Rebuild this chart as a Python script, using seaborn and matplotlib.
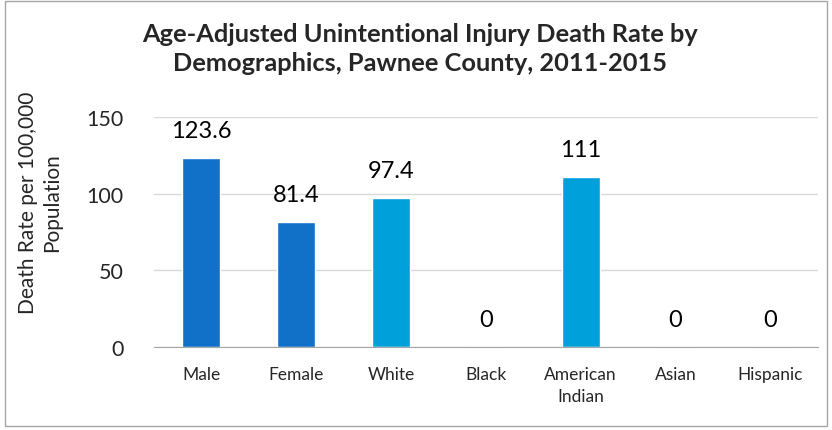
import numpy as np
import pandas as pd
import matplotlib
matplotlib.use('Agg')
import matplotlib.pyplot as plt
import seaborn as sns
from matplotlib.patches import Rectangle

categories = ['Male', 'Female', 'White', 'Black', 'American\nIndian', 'Asian', 'Hispanic']
rates = [123.6, 81.4, 97.4, 0, 111, 0, 0]
value_labels = ['123.6', '81.4', '97.4', '0', '111', '0', '0']
groups = ['sex', 'sex', 'race', 'race', 'race', 'race', 'race']

df = pd.DataFrame({'category': categories, 'rate': rates, 'group': groups})

sns.set_style('white')
plt.rcParams['font.family'] = ['Lato', 'DejaVu Sans']

fig = plt.figure(figsize=(8.32, 4.31), dpi=100)
ax = fig.add_axes([0.185, 0.193, 0.798, 0.533])

palette = {'sex': '#1170C8', 'race': '#00A0DA'}
sns.barplot(data=df, x='category', y='rate', hue='group', palette=palette,
            dodge=False, width=0.4, legend=False, ax=ax, saturation=1)

for i, lab in enumerate(value_labels):
    ax.text(i, rates[i] + 11, lab, ha='center', va='bottom', fontsize=17, color='#000000')

ax.set_ylim(0, 150)
ax.set_xlim(-0.5, len(categories) - 0.5)
ax.set_yticks([0, 50, 100, 150])
ax.yaxis.grid(True, color='#D9D9D9', linewidth=1)
ax.set_axisbelow(True)
ax.tick_params(axis='y', length=0, labelsize=15.5, pad=22)
ax.tick_params(axis='x', which='major', length=0, labelsize=12.5, pad=14)
for t in ax.get_xticklabels():
    t.set_linespacing(1.45)
ax.set_xticks(np.arange(-0.5, len(categories)), minor=True)
ax.tick_params(axis='x', which='minor', length=5, color='#A6A6A6', width=1)
for s in ['top', 'right', 'left']:
    ax.spines[s].set_visible(False)
ax.spines['bottom'].set_color('#A6A6A6')
ax.set_xlabel('')
ax.set_ylabel('')
fig.text(0.048, 0.529, 'Death Rate per 100,000\nPopulation', rotation=90,
         ha='center', va='center', fontsize=15, linespacing=1.25, multialignment='center')

fig.text(0.505, 0.947, 'Age-Adjusted Unintentional Injury Death Rate by\nDemographics, Pawnee County, 2011-2015',
         ha='center', va='top', fontsize=18.3, fontweight='bold', linespacing=1.3)

fig.patches.append(Rectangle((0.006, 0.01), 0.988, 0.985, transform=fig.transFigure,
                             fill=False, edgecolor='#A6A6A6', linewidth=1))

fig.savefig('out.png', dpi=100)
